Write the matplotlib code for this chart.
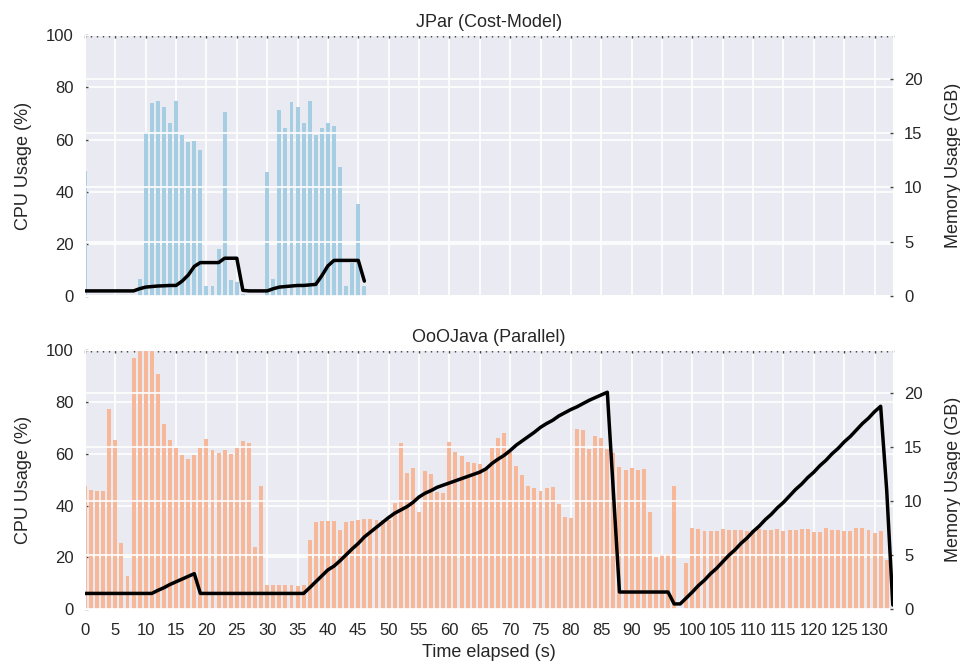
import numpy as np
import matplotlib
matplotlib.use('Agg')
import matplotlib.pyplot as plt
import seaborn as sns
from matplotlib.ticker import MultipleLocator

sns.set_style('darkgrid')
plt.rcParams['font.family'] = ['Liberation Sans', 'DejaVu Sans']
plt.rcParams['font.size'] = 12

# CPU usage (%) and memory usage (GB), one sample per second
jpar_cpu = [48, 0, 0, 0, 0, 0, 0, 0, 0, 6.6,
            63, 74, 74.8, 72.5, 66.4, 74.8, 61.8, 59.1, 59.5, 55.9,
            3.9, 3.9, 18.1, 70.5, 6.1, 5.4, 1, 0, 0, 0,
            47.5, 6.6, 71.3, 64.4, 74.5, 72.4, 66.3, 74.8, 61.7, 64.4,
            66.3, 65.1, 49.5, 3.9, 12.8, 35.4, 3.9]
jpar_mem = [0.5, 0.5, 0.5, 0.5, 0.5, 0.5, 0.5, 0.5, 0.5, 0.7,
            0.85, 0.9, 0.95, 0.97, 1.0, 1.0, 1.4, 1.95, 2.75, 3.1,
            3.1, 3.1, 3.1, 3.5, 3.5, 3.5, 0.55, 0.5, 0.5, 0.5,
            0.5, 0.7, 0.85, 0.9, 0.95, 1.0, 1.0, 1.05, 1.1, 1.9,
            2.8, 3.3, 3.3, 3.3, 3.3, 3.3, 1.4]

ooo_cpu = [47.6, 46.0, 45.6, 45.6, 77.3, 65.3, 25.6, 12.9, 96.9, 100,
           100, 100, 90.7, 71.4, 65.3, 62.2, 59.5, 58.0, 59.5, 62.2,
           65.7, 61.4, 60.3, 61.4, 59.9, 62.2, 64.9, 64.1, 24.1, 47.6,
           9.4, 9.4, 9.4, 9.4, 9.4, 9.0, 9.4, 26.8, 33.7, 34.1,
           34.1, 34.1, 30.6, 33.7, 34.1, 34.5, 34.9, 34.9, 34.5, 34.5,
           34.5, 41.0, 64.1, 52.6, 54.5, 37.5, 53.3, 52.2, 45.3, 44.9,
           64.5, 60.7, 59.1, 56.8, 56.4, 56.0, 54.5, 62.2, 66.1, 68.0,
           60.7, 55.3, 51.8, 47.6, 46.8, 45.6, 46.8, 47.2, 40.6, 35.6,
           35.2, 69.5, 69.1, 61.8, 66.9, 66.1, 61.8, 60.3, 54.9, 53.7,
           54.5, 53.7, 54.1, 37.5, 20.2, 21.3, 21.3, 47.6, 0, 17.9,
           31.4, 31.0, 30.2, 30.2, 30.2, 31.0, 30.6, 30.6, 30.6, 30.2,
           30.6, 31.0, 30.6, 30.6, 31.0, 30.2, 30.6, 30.6, 31.0, 31.0,
           29.8, 29.8, 31.4, 30.6, 30.6, 30.2, 30.2, 31.4, 31.4, 30.6,
           29.4, 30.2, 19.0, 0]
ooo_mem = [1.47, 1.47, 1.47, 1.47, 1.47, 1.47, 1.47, 1.47, 1.47, 1.47,
           1.47, 1.47, 1.75, 2.0, 2.3, 2.55, 2.8, 3.05, 3.3, 1.47,
           1.47, 1.47, 1.47, 1.47, 1.47, 1.47, 1.47, 1.47, 1.47, 1.47,
           1.47, 1.47, 1.47, 1.47, 1.47, 1.47, 1.47, 2.0, 2.55, 3.1,
           3.65, 4.0, 4.5, 5.05, 5.6, 6.1, 6.7, 7.15, 7.6, 8.05,
           8.5, 8.9, 9.2, 9.5, 9.9, 10.4, 10.75, 11.0, 11.3, 11.5,
           11.7, 11.9, 12.1, 12.3, 12.5, 12.7, 13.0, 13.5, 13.9, 14.25,
           14.7, 15.2, 15.6, 16.0, 16.4, 16.85, 17.2, 17.5, 17.9, 18.2,
           18.5, 18.75, 19.05, 19.35, 19.6, 19.85, 20.1, 10.9, 1.6, 1.6,
           1.6, 1.6, 1.6, 1.6, 1.6, 1.6, 1.6, 0.5, 0.5, 1.05,
           1.6, 2.2, 2.7, 3.3, 3.8, 4.4, 5.0, 5.5, 6.1, 6.6,
           7.2, 7.7, 8.3, 8.8, 9.4, 9.9, 10.5, 11.1, 11.6, 12.2,
           12.7, 13.3, 13.8, 14.4, 14.9, 15.5, 16.0, 16.6, 17.2, 17.7,
           18.3, 18.8, 11.0, 0.4]

panels = [('JPar (Cost-Model)', jpar_cpu, jpar_mem, '#a6cee3'),
          ('OoOJava (Parallel)', ooo_cpu, ooo_mem, '#f7b799')]

fig = plt.figure(figsize=(9.6, 6.72), dpi=100)
boxes = [[0.0885, 0.559, 0.8415, 0.389], [0.0885, 0.0933, 0.8415, 0.3857]]

tick_kw = dict(direction='in', length=2.5, width=1, color='#444444')
axes = []
for (title, cpu, mem, color), box in zip(panels, boxes):
    ax = fig.add_axes(box, sharex=axes[0] if axes else None)
    ax.set_axisbelow(True)
    ax.bar(np.arange(len(cpu)), cpu, width=0.65, color=color, linewidth=0)
    ax.set_xlim(0, 133)
    ax.set_ylim(0, 100)
    ax.set_yticks([0, 20, 40, 60, 80, 100])
    ax.xaxis.set_major_locator(MultipleLocator(5))
    ax.xaxis.set_minor_locator(MultipleLocator(1))
    ax.tick_params(axis='both', which='both', top=True, left=True, **tick_kw)
    ax.tick_params(axis='x', which='minor', length=1.5)
    ax.tick_params(axis='x', pad=10)
    ax.tick_params(axis='y', pad=8)
    ax.grid(True, color='white', linewidth=1.2)
    ax.grid(False, which='minor')
    ax.set_ylabel('CPU Usage (%)', fontsize=13, labelpad=10)
    ax.set_title(title, fontsize=13, pad=6)

    # memory on a second axis; its grid lines sit over the bars
    ax2 = ax.twinx()
    ax2.plot(np.arange(len(mem)), mem, color='black', linewidth=2.5)
    ax2.set_ylim(0, 24)
    ax2.set_yticks([0, 5, 10, 15, 20])
    ax2.tick_params(axis='y', right=True, pad=8, **tick_kw)
    ax2.grid(True, axis='y', color='white', linewidth=1.2)
    ax2.grid(False, axis='x')
    ax2.set_ylabel('Memory Usage (GB)', fontsize=13, labelpad=16)
    for s in ax2.spines.values():
        s.set_visible(False)
    axes.append(ax)

axes[0].tick_params(axis='x', labelbottom=False)
axes[1].set_xlabel('Time elapsed (s)', fontsize=13)

fig.savefig('out.png', dpi=100)
